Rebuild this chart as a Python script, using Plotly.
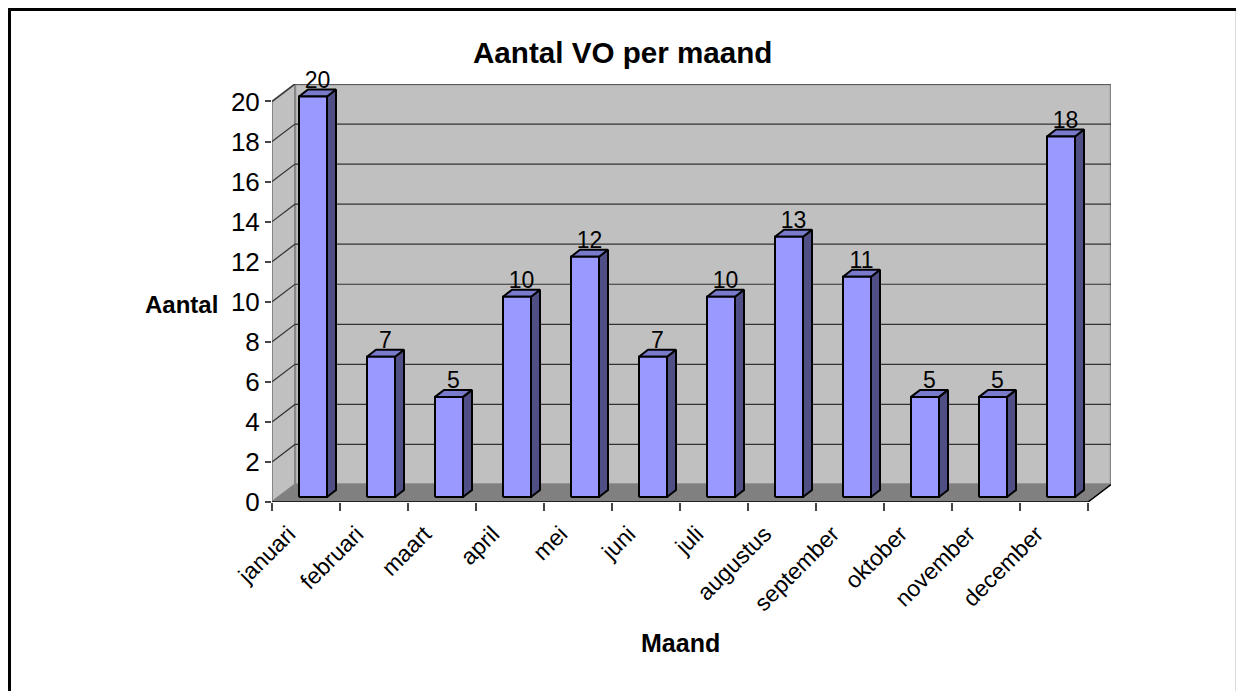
import plotly.graph_objects as go

months = ["januari", "februari", "maart", "april", "mei", "juni", "juli",
          "augustus", "september", "oktober", "november", "december"]
counts = [20, 7, 5, 10, 12, 7, 10, 13, 11, 5, 5, 18]
y_ticks = list(range(0, 21, 2))

W, H = 1236, 691
PX_L, PX_R, PX_T, PX_B = 272, 1111, 84, 502
UX, UY = 68.0, 20.05          # px per category, px per unit
DX, DY = 23 / UX, 17.5 / UY   # wall depth
BAR_L, BAR_W = 27 / UX, 28 / UX
BDX0, BDY0 = 0, 5 / UY        # bar front plane
BDX, BDY = 9 / UX, 7 / UY     # bar depth

GRID = "#333333"; WALL = "#c0c0c0"; FRAME = "#868686"; FLOOR = "#808080"
FRONT = "#9999ff"; TOP = "#7a7acc"; SIDE = "#4f4f85"
FONT = "Liberation Sans, Arial, sans-serif"

fig = go.Figure()

def poly(xs, ys, fill=None, line="#000000", width=2):
    fig.add_trace(go.Scatter(
        x=xs, y=ys, mode="lines", cliponaxis=False, hoverinfo="skip",
        showlegend=False, fill="toself" if fill else None, fillcolor=fill,
        line=dict(color=line, width=width)))

n = len(months)
top = max(y_ticks)
poly([DX, n + DX, n + DX, DX, DX], [DY, DY, top + DY, top + DY, DY], WALL, FRAME, 2.5)
poly([0, DX, DX, 0, 0], [0, DY, top + DY, top, 0], WALL, FRAME, 2)
poly([0, n, n + DX, DX, 0], [0, 0, DY, DY, 0], FLOOR, FLOOR, 1)
for v in y_ticks[1:]:
    poly([0, DX, n + DX], [v, v + DY, v + DY], None, GRID, 1.2)
poly([0, n, n + DX], [0, 0, DY], None, "#000000", 1.5)

for i, v in enumerate(counts):
    x0, x1 = i + BAR_L, i + BAR_L + BAR_W
    y0 = BDY0
    y1 = v + BDY0
    poly([x1, x1 + BDX, x1 + BDX, x1, x1], [y0, y0 + BDY, y1 + BDY, y1, y0], SIDE)
    poly([x0, x1, x1 + BDX, x0 + BDX, x0], [y1, y1, y1 + BDY, y1 + BDY, y1], TOP)
    poly([x0, x1, x1, x0, x0], [y0, y0, y1, y1, y0], FRONT)

fig.add_trace(go.Scatter(
    x=[i + BAR_L + BAR_W / 2 + BDX / 2 for i in range(n)],
    y=[v + BDY0 + BDY - 0.2 for v in counts],
    mode="text", text=[str(v) for v in counts], textposition="top center",
    textfont=dict(family=FONT, size=23, color="#000000"),
    cliponaxis=False, hoverinfo="skip", showlegend=False))

pw, ph = PX_R - PX_L, PX_B - PX_T
xp = lambda a: (a - PX_L) / pw
yp = lambda b: (PX_B - b) / ph

def label(text, x, y, size):
    return dict(text=f"<b>{text}</b>", xref="paper", yref="paper", x=xp(x), y=yp(y),
                xanchor="center", yanchor="middle", showarrow=False,
                font=dict(family=FONT, size=size, color="#000000"))

fig.update_layout(
    width=W, height=H, margin=dict(l=PX_L, r=W - PX_R, t=PX_T, b=H - PX_B),
    paper_bgcolor="#ffffff", plot_bgcolor="#ffffff", showlegend=False,
    font=dict(family=FONT, color="#000000"),
    xaxis=dict(range=[0, n + DX], showgrid=False, zeroline=False, showline=False,
               tickmode="array", tickvals=[i + 0.245 for i in range(n)], ticktext=months,
               tickangle=-45, ticks="", ticklen=0, ticklabelstandoff=13,
               tickfont=dict(family=FONT, size=23, color="#000000"),
               minor=dict(ticks="outside", tickmode="array", tickvals=list(range(n + 1)),
                          ticklen=8, tickcolor="#444444", tickwidth=1.5, showgrid=False)),
    yaxis=dict(range=[0, top + DY], showgrid=False, zeroline=False, showline=False,
               tickmode="array", tickvals=y_ticks, ticks="outside", ticklen=6,
               tickcolor="#444444", tickwidth=1.5,
               tickfont=dict(family=FONT, size=26, color="#000000")),
    shapes=[
        dict(type="line", xref="paper", yref="paper", x0=xp(8), x1=xp(W), y0=yp(9.5), y1=yp(9.5),
             line=dict(color="#000000", width=3)),
        dict(type="line", xref="paper", yref="paper", x0=xp(9.5), x1=xp(9.5), y0=yp(9.5), y1=yp(H),
             line=dict(color="#000000", width=3)),
        dict(type="line", xref="paper", yref="paper", x0=xp(1235.5), x1=xp(1235.5), y0=yp(11), y1=yp(H),
             line=dict(color="#dddddd", width=1)),
    ],
    annotations=[
        label("Aantal VO per maand", 622, 53, 29.6),
        label("Aantal", 181, 304, 24),
        label("Maand", 680, 643, 25),
    ],
)
fig.write_html("out.html", post_script="document.body.style.margin='0';document.body.style.overflow='hidden';",
               config=dict(displayModeBar=False))
